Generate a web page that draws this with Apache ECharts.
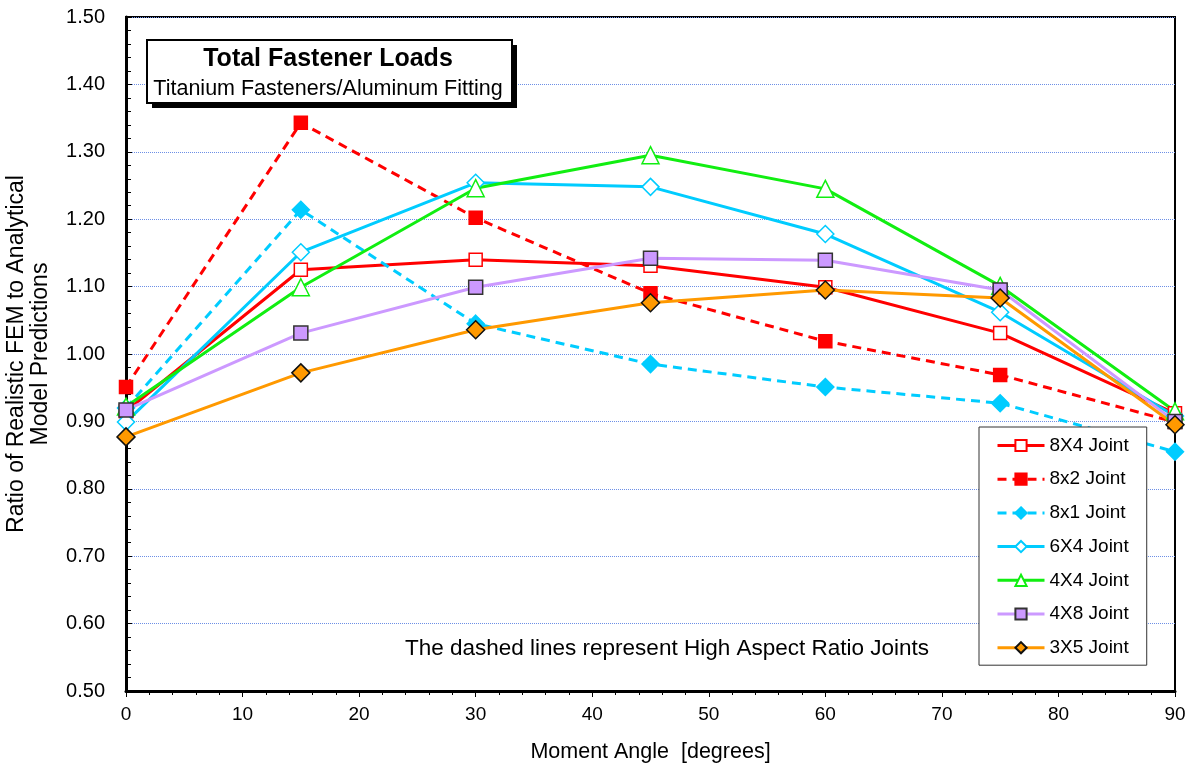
<!DOCTYPE html>
<html>
<head>
<meta charset="utf-8">
<script src="https://cdn.jsdelivr.net/npm/echarts@6/dist/echarts.min.js"></script>
<style>
html, body { margin: 0; padding: 0; background: #fff; }
#main { width: 1195px; height: 769px; }
</style>
</head>
<body>
<div id="main"></div>
<script>
// moment angle [degrees]
var angles = [ 0, 15, 30, 45, 60, 75, 90 ];
// ratio of realistic FEM to analytical
var j8x4 = [ 0.915, 1.125, 1.140, 1.131, 1.099, 1.031, 0.912 ];
var j8x2 = [ 0.951, 1.343, 1.202, 1.090, 1.019, 0.969, 0.899 ];
var j8x1 = [ 0.920, 1.214, 1.045, 0.985, 0.951, 0.927, 0.855 ];
var j6x4 = [ 0.899, 1.151, 1.254, 1.248, 1.178, 1.062, 0.908 ];
var j4x4 = [ 0.922, 1.099, 1.246, 1.295, 1.245, 1.101, 0.915 ];
var j4x8 = [ 0.917, 1.031, 1.099, 1.142, 1.139, 1.095, 0.900 ];
var j3x5 = [ 0.877, 0.972, 1.036, 1.076, 1.095, 1.083, 0.895 ];
var yTicks = [ '0.50', '0.60', '0.70', '0.80', '0.90', '1.00', '1.10', '1.20', '1.30', '1.40', '1.50' ];

var FONT = 'Liberation Sans, Arial, sans-serif';

function pairs(vals) {
	return angles.map(function (a, i) { return [ a, vals[i] ]; });
}

function mkSeries(name, vals, color, dashed, symbol, size, fill, border) {
	return {
		name : name,
		type : 'line',
		data : pairs(vals),
		symbol : symbol,
		symbolSize : size,
		showAllSymbol : true,
		lineStyle : {
			color : color,
			width : 3,
			type : dashed ? [ 9, 6 ] : 'solid'
		},
		itemStyle : {
			color : fill,
			borderColor : border,
			borderWidth : 1.5
		},
		emphasis : { disabled : true },
		z : 3
	};
}

var myChart = echarts.init(document.getElementById('main'));
var option = {
	animation : false,
	textStyle : { fontFamily : FONT },
	legend : {
		orient : 'vertical',
		left : 979,
		top : 427,
		padding : [ 9, 18, 8, 17 ],
		itemGap : 14.7,
		itemWidth : 47,
		itemHeight : 14,
		backgroundColor : '#fff',
		borderColor : '#333',
		borderWidth : 1,
		lineStyle : { width : 3 },
		textStyle : { fontFamily : FONT, fontSize : 19, color : '#000' },
		data : [ '8X4 Joint', '8x2 Joint', '8x1 Joint', '6X4 Joint', '4X4 Joint', '4X8 Joint', '3X5 Joint' ]
	},
	grid : {
		left : 126,
		right : 20,
		top : 17,
		bottom : 78,
		outerBoundsMode : 'none',
		containLabel : false,
		show : true,
		borderColor : '#000',
		borderWidth : 2,
		backgroundColor : '#fff'
	},
	xAxis : {
		type : 'value',
		min : 0,
		max : 90,
		interval : 10,
		name : 'Moment Angle  [degrees]',
		nameLocation : 'middle',
		nameGap : 50,
		nameTextStyle : { fontFamily : FONT, fontSize : 21.5, color : '#000' },
		axisLine : { lineStyle : { color : '#000', width : 3 } },
		axisTick : { inside : false, length : 6, lineStyle : { color : '#000', width : 1 } },
		minorTick : { show : true, splitNumber : 5, length : 4, lineStyle : { color : '#000' } },
		axisLabel : { fontFamily : FONT, fontSize : 19, color : '#000', margin : 14 },
		splitLine : { show : false }
	},
	yAxis : {
		type : 'value',
		min : 0.5,
		max : 1.5,
		interval : 0.1,
		name : 'Ratio of Realistic FEM to Analytical\nModel Predictions',
		nameLocation : 'middle',
		nameGap : 73,
		nameTextStyle : { fontFamily : FONT, fontSize : 23, color : '#000', lineHeight : 24 },
		axisLine : { lineStyle : { color : '#000', width : 3 } },
		axisTick : { inside : true, length : 6, lineStyle : { color : '#000', width : 1 } },
		minorTick : { show : true, splitNumber : 5, length : 5, lineStyle : { color : '#000' } },
		axisLabel : {
			fontFamily : FONT,
			fontSize : 20,
			color : '#000',
			margin : 21,
			formatter : function (v) {
				return yTicks[Math.round((v - 0.5) * 10)];
			}
		},
		splitLine : { show : true, lineStyle : { color : '#6d8fe6', type : 'dotted', width : 1 } }
	},
	graphic : [ {
		type : 'rect',
		z : 100,
		shape : { x : 152, y : 45, width : 365, height : 63 },
		style : { fill : '#000' }
	}, {
		type : 'rect',
		z : 101,
		shape : { x : 147, y : 40, width : 365, height : 63 },
		style : { fill : '#fff', stroke : '#000', lineWidth : 2 }
	}, {
		type : 'text',
		z : 102,
		x : 328,
		y : 59,
		style : {
			text : 'Total Fastener Loads',
			fontFamily : FONT,
			fontSize : 25,
			fontWeight : 'bold',
			fill : '#000',
			align : 'center',
			verticalAlign : 'middle'
		}
	}, {
		type : 'text',
		z : 102,
		x : 328,
		y : 89,
		style : {
			text : 'Titanium Fasteners/Aluminum Fitting',
			fontFamily : FONT,
			fontSize : 21.5,
			fill : '#000',
			align : 'center',
			verticalAlign : 'middle'
		}
	}, {
		type : 'text',
		z : 100,
		x : 667,
		y : 649,
		style : {
			text : 'The dashed lines represent High Aspect Ratio Joints',
			fontFamily : FONT,
			fontSize : 22.5,
			fill : '#000',
			align : 'center',
			verticalAlign : 'middle'
		}
	} ],
	series : [
		mkSeries('8X4 Joint', j8x4, '#ff0000', false, 'rect', 13, '#fff', '#ff0000'),
		mkSeries('8x2 Joint', j8x2, '#ff0000', true, 'rect', 13, '#ff0000', '#ff0000'),
		mkSeries('8x1 Joint', j8x1, '#00ccff', true, 'diamond', 17, '#00ccff', '#00ccff'),
		mkSeries('6X4 Joint', j6x4, '#00ccff', false, 'diamond', 17, '#fff', '#00ccff'),
		mkSeries('4X4 Joint', j4x4, '#11ee11', false, 'triangle', 17, '#fff', '#11ee11'),
		mkSeries('4X8 Joint', j4x8, '#cc99ff', false, 'rect', 14, '#cc99ff', '#333'),
		mkSeries('3X5 Joint', j3x5, '#ff9900', false, 'diamond', 18, '#ff9900', '#111')
	]
};
myChart.setOption(option);
</script>
</body>
</html>
